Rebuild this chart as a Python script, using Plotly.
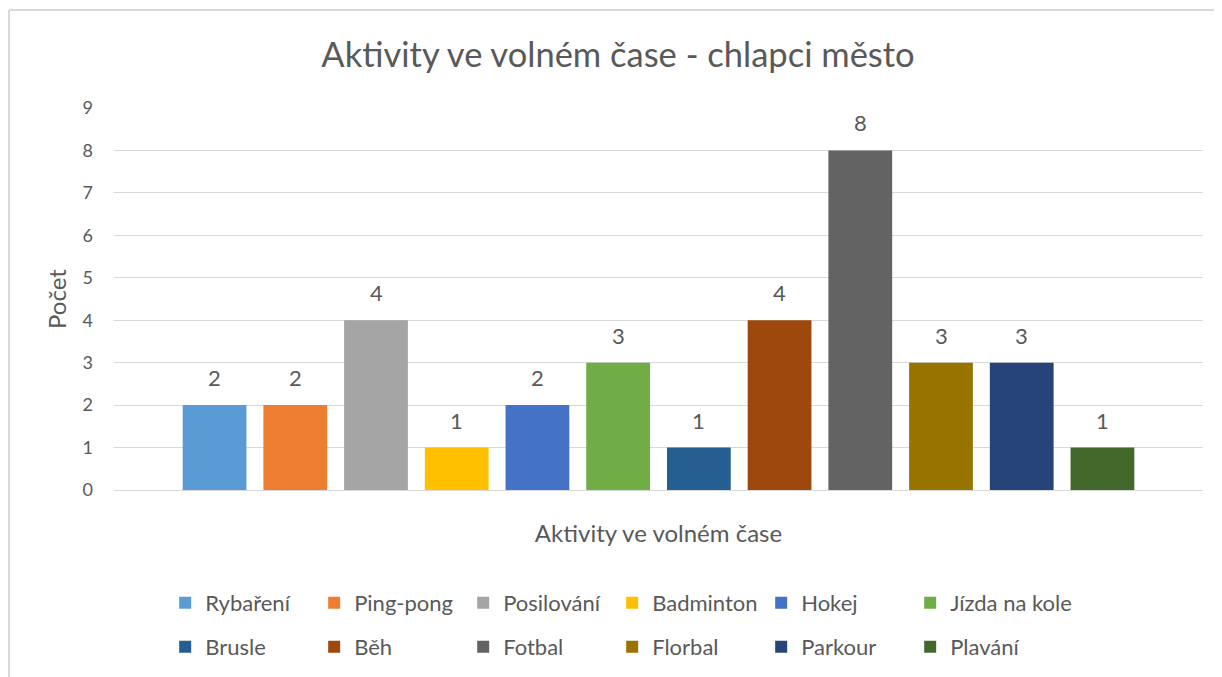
import plotly.graph_objects as go

# data
aktivity = ["Rybaření", "Ping-pong", "Posilování", "Badminton", "Hokej", "Jízda na kole",
            "Brusle", "Běh", "Fotbal", "Florbal", "Parkour", "Plavání"]
pocet = [2, 2, 4, 1, 2, 3, 1, 4, 8, 3, 3, 1]
barvy = ["#5B9BD5", "#ED7D31", "#A5A5A5", "#FFC000", "#4472C4", "#70AD47",
         "#255E91", "#9E480E", "#636363", "#997300", "#264478", "#43682B"]
y_ticks = list(range(0, 10))

font = "Lato"
seda = "#595959"
mrizka = "#D9D9D9"

fig = go.Figure()
for i, (nazev, hodnota, barva) in enumerate(zip(aktivity, pocet, barvy)):
    fig.add_trace(go.Bar(
        x=[nazev], y=[hodnota], name=nazev,
        marker=dict(color=barva, line=dict(width=0)),
        width=0.79,
        legend="legend" if i < 6 else "legend2",
        legendwidth=150 if i == 5 else None,
        hoverinfo="name+y",
    ))
    # popisek nad sloupcem
    fig.add_annotation(x=nazev, y=hodnota, text=str(hodnota), showarrow=False,
                       yanchor="bottom", yshift=12,
                       font=dict(family=font, size=22, color=seda))

leg = dict(orientation="h", x=0.047, xanchor="left", yanchor="middle",
           font=dict(family=font, size=22, color=seda),
           entrywidth=104, entrywidthmode="pixels",
           bgcolor="rgba(0,0,0,0)", itemclick=False)

# stranka ma okraj 8 px, proto je graf posunuty
fig.update_layout(
    width=1222, height=677,
    margin=dict(l=106, r=27, t=100, b=195),
    paper_bgcolor="white", plot_bgcolor="white",
    barmode="overlay",
    title=dict(text="Aktivity ve volném čase - chlapci město",
               x=610 / 1222, xanchor="center", xref="container",
               y=1 - 47 / 677, yanchor="middle", yref="container",
               font=dict(family=font, size=34.5, color=seda)),
    xaxis=dict(
        categoryorder="array", categoryarray=aktivity,
        range=[-1.246, 12.246],
        showticklabels=False, showgrid=False, zeroline=False,
        showline=False, ticks="",
        title=dict(text="Aktivity ve volném čase", standoff=35,
                   font=dict(family=font, size=24, color=seda)),
    ),
    yaxis=dict(
        range=[0, 9], tickvals=y_ticks,
        showgrid=True, gridcolor=mrizka, gridwidth=1,
        zeroline=True, zerolinecolor=mrizka, zerolinewidth=1,
        showline=False, ticks="",
        ticklabelstandoff=20,
        tickfont=dict(family=font, size=18, color=seda),
        title=dict(text="Počet", standoff=9,
                   font=dict(family=font, size=24, color=seda)),
    ),
    legend=dict(leg, y=-0.296),
    legend2=dict(leg, y=-0.411),
    showlegend=True,
)

# ramecek grafu
fig.add_shape(type="line", xref="paper", yref="paper",
              x0=(9 - 114) / 1089, x1=1.1, y0=(490 - 10) / 382, y1=(490 - 10) / 382,
              line=dict(color=mrizka, width=2))
fig.add_shape(type="line", xref="paper", yref="paper",
              x0=(9 - 114) / 1089, x1=(9 - 114) / 1089, y0=(490 - 10) / 382, y1=-0.6,
              line=dict(color=mrizka, width=2))

fig.write_html("out.html")
